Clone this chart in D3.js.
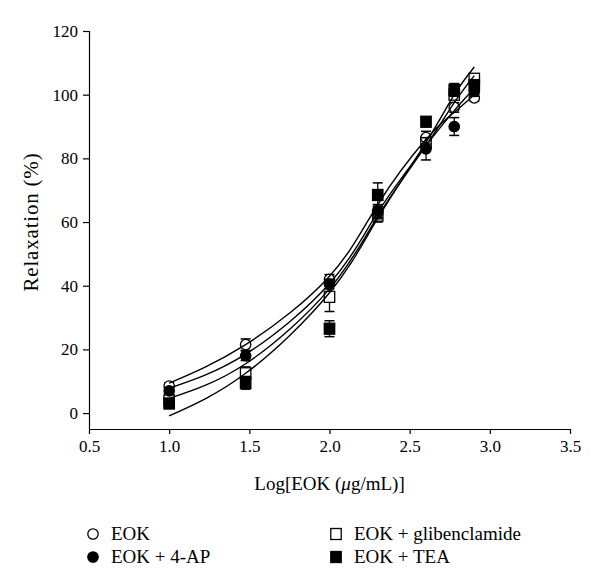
<!DOCTYPE html>
<html>
<head>
<meta charset="utf-8">
<script src="https://cdn.jsdelivr.net/npm/d3@7"></script>
<style>
  html, body { margin: 0; padding: 0; background: #fff; }
  svg text { font-family: "Liberation Serif", "DejaVu Serif", serif; fill: #000; }
</style>
</head>
<body>
<svg id="chart" width="600" height="575"></svg>
<script>
// ---------- data ----------
const logDose = [1.0, 1.477, 2.0, 2.301, 2.602, 2.778, 2.903];
const seriesNames = ["EOK", "EOK + 4-AP", "EOK + glibenclamide", "EOK + TEA"];
const eokValues   = [8.5, 21.5, 42.0, 63.0, 86.5, 96.0, 99.0];
const apValues    = [7.0, 18.0, 40.5, 63.5, 83.0, 90.0, 101.0];
const glibValues  = [4.0, 12.5, 36.5, 62.0, 85.0, 100.0, 105.0];
const teaValues   = [3.0, 9.5, 26.5, 68.5, 91.5, 101.5, 103.0];
const eokErr  = [1.0, 1.8, 1.5, 2.0, 2.0, 1.5, 1.0];
const apErr   = [1.0, 1.5, 1.5, 2.0, 3.5, 2.8, 1.5];
const glibErr = [1.0, 2.0, 4.6, 2.0, 2.0, 1.5, 1.0];
const teaErr  = [1.5, 2.0, 2.5, 3.8, 1.5, 2.0, 1.5];
// fitted trend-line values at the same doses
const eokFit  = [9.4, 21.5, 43.0, 65.5, 86.0, 94.5, 100.0];
const apFit   = [7.8, 18.5, 40.7, 63.0, 84.0, 95.0, 102.0];
const glibFit = [4.6, 15.5, 39.0, 61.8, 84.0, 97.5, 106.0];
const teaFit  = [-0.9, 12.5, 37.8, 61.2, 85.0, 100.0, 108.7];
const xTicks = [0.5, 1.0, 1.5, 2.0, 2.5, 3.0, 3.5];
const yTicks = [0, 20, 40, 60, 80, 100, 120];

const series = [
  {name: seriesNames[0], vals: eokValues,  err: eokErr,  fit: eokFit,  shape: "circle", fill: "#fff"},
  {name: seriesNames[1], vals: apValues,   err: apErr,   fit: apFit,   shape: "circle", fill: "#000"},
  {name: seriesNames[2], vals: glibValues, err: glibErr, fit: glibFit, shape: "square", fill: "#fff"},
  {name: seriesNames[3], vals: teaValues,  err: teaErr,  fit: teaFit,  shape: "square", fill: "#000"}
];

// ---------- layout ----------
const svg = d3.select("#chart");
const mLeft = 89, mRight = 570, mTop = 31, mBottom = 429;
const x = d3.scaleLinear().domain([0.5, 3.5]).range([mLeft, mRight]);
const y = d3.scaleLinear().domain([-5, 120]).range([mBottom, mTop]);

// axes
const xAxis = d3.axisBottom(x).tickValues(xTicks).tickFormat(d3.format(".1f")).tickSize(5).tickPadding(6);
const yAxis = d3.axisLeft(y).tickValues(yTicks).tickFormat(d3.format("d")).tickSize(6).tickPadding(5);

const gx = svg.append("g").attr("transform", `translate(0,${mBottom})`).call(xAxis);
const gy = svg.append("g").attr("transform", `translate(${mLeft},0)`).call(yAxis);
[gx, gy].forEach(g => {
  g.select(".domain").attr("stroke", "#000").attr("stroke-width", 1.2);
  g.selectAll(".tick line").attr("stroke", "#000").attr("stroke-width", 1.2);
  g.selectAll(".tick text").attr("font-family", "Liberation Serif, serif").attr("font-size", 17).attr("fill", "#000");
});
gx.select(".domain").attr("d", `M${mLeft},0.5H${mRight}`);
gy.select(".domain").attr("d", `M0.5,${mBottom}V${mTop}`);

// axis titles
const xt = svg.append("text").attr("x", (mLeft + mRight) / 2).attr("y", 490)
  .attr("text-anchor", "middle").attr("font-size", 19);
xt.append("tspan").text("Log[EOK (");
xt.append("tspan").attr("font-style", "italic").text("\u03bc");
xt.append("tspan").text("g/mL)]");

svg.append("text").attr("transform", "translate(38,222) rotate(-90)")
  .attr("text-anchor", "middle").attr("font-size", 21).attr("letter-spacing", 0.8)
  .text("Relaxation (%)");

// ---------- marks ----------
const plot = svg.append("g");
const capW = 5;

function drawMarker(g, shape, fill, cx, cy) {
  if (shape === "circle") {
    g.append("circle").attr("cx", cx).attr("cy", cy).attr("r", 5.2)
      .attr("fill", fill).attr("stroke", "#000").attr("stroke-width", 1.3);
  } else {
    g.append("rect").attr("x", cx - 5.2).attr("y", cy - 5.5).attr("width", 10.4).attr("height", 11)
      .attr("fill", fill).attr("stroke", "#000").attr("stroke-width", 1.3);
  }
}

const order = [2, 0, 1, 3];
order.forEach(si => {
  const s = series[si];
  const g = plot.append("g");
  logDose.forEach((xd, i) => {
    const cx = x(xd);
    const y1 = y(s.vals[i] + s.err[i]), y2 = y(s.vals[i] - s.err[i]);
    g.append("line").attr("x1", cx).attr("x2", cx).attr("y1", y1).attr("y2", y2)
      .attr("stroke", "#000").attr("stroke-width", 1.3);
    [y1, y2].forEach(yy => g.append("line").attr("x1", cx - capW).attr("x2", cx + capW)
      .attr("y1", yy).attr("y2", yy).attr("stroke", "#000").attr("stroke-width", 1.5));
  });
  logDose.forEach((xd, i) => drawMarker(g, s.shape, s.fill, x(xd), y(s.vals[i])));
});

// trend lines on top
const line = d3.line().x((d, i) => x(logDose[i])).y(d => y(d)).curve(d3.curveNatural);
series.forEach(s => {
  plot.append("path").attr("d", line(s.fit)).attr("fill", "none")
    .attr("stroke", "#000").attr("stroke-width", 1.4);
});

// ---------- legend ----------
const legendPos = [
  {mx: 93, tx: 111, y: 540},
  {mx: 93, tx: 111, y: 563},
  {mx: 336, tx: 354, y: 540},
  {mx: 336, tx: 354, y: 563}
];
const lg = svg.append("g");
series.forEach((s, i) => {
  const p = legendPos[i];
  drawMarker(lg, s.shape, s.fill, p.mx, p.y - 6);
  lg.append("text").attr("x", p.tx).attr("y", p.y).attr("font-size", 19).text(s.name);
});
</script>
</body>
</html>
